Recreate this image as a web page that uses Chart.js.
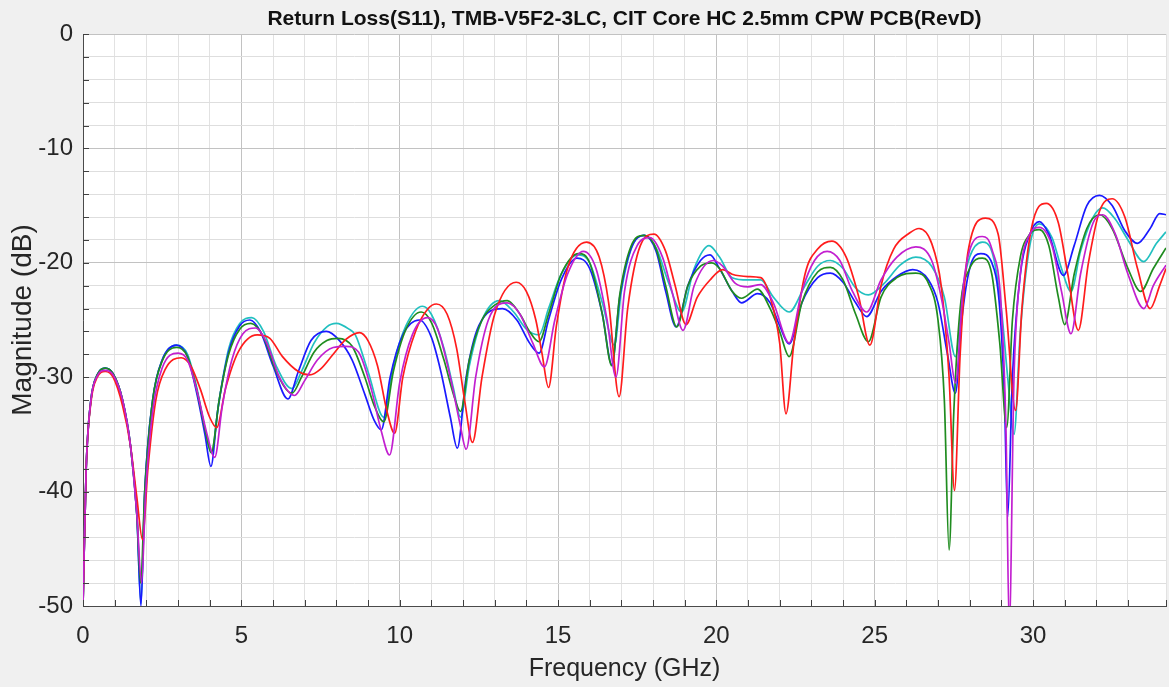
<!DOCTYPE html>
<html>
<head>
<meta charset="utf-8">
<script src="https://cdn.jsdelivr.net/npm/chart.js@4.4.1/dist/chart.umd.min.js"></script>
<style>
  html, body { margin:0; padding:0; background:#f0f0f0; }
  #wrap { width:1169px; height:687px; }
</style>
</head>
<body>
<div id="wrap"><canvas id="s11" width="1169" height="687"></canvas></div>
<script>
// S11 traces (GHz / dB)
const magentaFreq = [0,0.1,0.25,0.45,0.7,0.95,1.25,1.5,1.7,1.85,1.98,2.2,2.5,3.0,3.3,3.6,3.9,4.16,4.4,4.7,5.05,5.45,5.8,6.2,6.68,7.0,7.4,7.9,8.3,8.7,9.1,9.4,9.68,10.0,10.4,10.88,11.2,11.6,11.9,12.1,12.4,12.8,13.4,13.8,14.2,14.57,14.9,15.3,15.8,16.2,16.55,16.83,17.1,17.5,17.9,18.3,18.6,18.95,19.3,19.9,20.2,20.6,21.0,21.4,21.8,22.3,22.7,23.1,23.5,23.9,24.3,24.75,25.2,25.7,26.3,26.8,27.1,27.35,27.55,27.8,28.05,28.4,28.7,29.0,29.15,29.25,29.4,29.6,29.9,30.2,30.6,30.9,31.2,31.5,31.9,32.2,32.6,33.0,33.5,33.8,34.2];
const magentaDb = [-50,-38,-32,-29.9,-29.4,-29.8,-32,-36,-42,-48,-40,-33,-29.2,-27.9,-28.5,-31.2,-34.8,-37,-32.5,-28.5,-26.2,-25.7,-27,-30,-31.6,-30.3,-28.5,-27.4,-27.3,-27.8,-31,-34.5,-36.8,-30.5,-26.3,-24.8,-25.8,-30,-34,-36.3,-30,-25,-23.5,-24.5,-27,-29.1,-25,-21,-19,-20.5,-25,-30,-22.5,-18.5,-17.8,-19.5,-22.5,-25.9,-22,-19.8,-20.3,-21.8,-22.1,-21.9,-23.5,-27,-22.5,-19.8,-19,-19.8,-22.5,-24.3,-21.5,-19.5,-18.6,-19.8,-23,-27,-30.5,-22,-18.5,-17.7,-18.8,-24,-35,-52,-30,-21,-17.5,-16.9,-18.5,-22.5,-26.2,-21,-16.5,-15.8,-17.5,-21,-24,-22,-20.2];

const redFreq = [0,0.1,0.25,0.45,0.7,0.95,1.25,1.5,1.7,1.88,2.05,2.3,2.6,3.1,3.4,3.7,4.0,4.22,4.5,4.9,5.5,5.9,6.3,6.8,7.16,7.5,7.9,8.3,8.73,9.0,9.3,9.6,9.84,10.1,10.5,10.9,11.16,11.5,11.8,12.05,12.3,12.6,13.0,13.68,14.0,14.3,14.5,14.7,14.95,15.3,15.9,16.3,16.6,16.93,17.2,17.6,18.03,18.4,18.7,19.04,19.4,19.8,20.2,20.5,21.0,21.4,21.7,22.0,22.2,22.45,22.8,23.2,23.65,24.1,24.5,24.85,25.2,25.6,26.1,26.4,26.8,27.1,27.35,27.52,27.7,27.95,28.5,28.9,29.15,29.45,29.65,29.95,30.42,30.8,31.1,31.43,31.75,32.1,32.5,32.9,33.3,33.7,34.0,34.2];
const redDb = [-50,-38,-32.2,-30,-29.5,-30,-32.5,-36,-40.5,-44.2,-38,-32,-29.3,-28.3,-29,-31,-33.5,-34.4,-31,-27.8,-26.3,-26.6,-28.2,-29.5,-29.8,-29.3,-28,-26.7,-26.1,-26.8,-29,-33,-34.9,-30,-26,-24,-23.6,-24.5,-27.5,-32,-35.7,-30,-24.5,-21.7,-22.5,-25,-28,-30.9,-25.5,-20.5,-18.2,-19.5,-23.5,-31.7,-24,-18.5,-17.5,-19,-22,-25.4,-23,-21.5,-20.6,-21,-21.2,-21.3,-23,-27,-33.2,-27,-21,-18.8,-18.1,-19.5,-23,-27.2,-22,-18.8,-17.4,-17,-18.3,-22,-30,-39.9,-28,-19,-16.1,-17.5,-24,-32.9,-24,-17,-14.8,-16.5,-21,-25.9,-20,-15.5,-14.4,-16,-20.5,-24,-22,-20.5];

const greenFreq = [0,0.1,0.25,0.45,0.7,0.95,1.25,1.5,1.7,1.82,1.95,2.2,2.5,2.95,3.3,3.6,3.85,4.05,4.3,4.6,4.95,5.3,5.7,6.1,6.6,6.9,7.3,7.7,8.05,8.5,8.9,9.2,9.5,9.8,10.2,10.68,11.0,11.4,11.7,11.92,12.2,12.6,13.0,13.4,13.8,14.1,14.4,14.7,15.1,15.65,16.0,16.4,16.7,16.95,17.3,17.72,18.1,18.4,18.75,19.1,19.5,19.85,20.1,20.5,20.8,21.3,21.7,22.0,22.3,22.7,23.2,23.6,24.0,24.4,24.8,25.2,25.7,26.3,26.7,27.0,27.2,27.35,27.5,27.7,28.0,28.4,28.7,28.95,29.17,29.35,29.6,29.9,30.2,30.5,30.8,31.0,31.3,31.7,32.1,32.5,33.0,33.4,33.8,34.2];
const greenDb = [-50,-38,-32,-29.8,-29.2,-29.7,-32,-36,-42,-48,-40,-32,-28.6,-27.4,-28.2,-31.2,-34.5,-36.6,-32,-28,-25.8,-25.3,-26.5,-29.5,-31.4,-30,-27.8,-26.8,-26.6,-27.3,-30,-32.5,-33.9,-29.5,-25.8,-24.3,-25.2,-28.5,-31.5,-33,-28.5,-25,-23.7,-23.3,-24.5,-26,-26.9,-24.5,-21,-19.2,-20,-24.5,-29,-22.8,-18.6,-17.6,-18.8,-22,-25.6,-22,-20.3,-20,-20.5,-22.5,-23.1,-22.3,-24,-26,-28.2,-23.5,-20.8,-20.4,-21.5,-24.5,-26.9,-23,-21.3,-20.9,-21.8,-25,-32,-45.1,-33,-24,-20.5,-19.6,-21,-27,-34.4,-25,-19.5,-17.5,-17.1,-18.5,-23,-25.4,-21,-17,-15.8,-17,-20.5,-22.5,-20.5,-18.7];

const blueFreq = [0,0.1,0.25,0.45,0.7,0.95,1.25,1.5,1.7,1.83,1.95,2.2,2.5,2.95,3.3,3.6,3.85,4.04,4.25,4.6,4.95,5.27,5.6,6.0,6.47,6.8,7.2,7.68,8.1,8.5,8.9,9.2,9.42,9.7,10.1,10.62,11.0,11.3,11.6,11.82,12.1,12.5,13.25,13.7,14.1,14.4,14.7,15.1,15.6,16.0,16.4,16.7,16.95,17.3,17.72,18.1,18.4,18.73,19.1,19.5,19.8,20.1,20.5,20.8,21.3,21.7,22.0,22.3,22.7,23.2,23.6,24.0,24.4,24.75,25.2,25.7,26.2,26.7,27.0,27.3,27.55,27.75,28.0,28.35,28.7,28.95,29.1,29.2,29.35,29.6,29.9,30.2,30.5,30.96,31.3,31.7,32.1,32.5,32.9,33.3,33.7,34.0,34.2];
const blueDb = [-50,-38,-32,-29.8,-29.2,-29.7,-32,-36,-42,-50,-40,-32,-28.5,-27.2,-28.2,-31.5,-35,-37.8,-33,-27.8,-25.5,-25,-26,-29,-31.9,-29.5,-26.8,-26,-26.8,-28.5,-31.5,-33.8,-34.6,-30,-26.3,-25,-26.5,-29.5,-33.5,-36.2,-30,-25.5,-24,-25,-27,-27.9,-25,-21.5,-19.6,-20.5,-24.5,-28.9,-23,-18.8,-17.6,-19,-22.5,-25.6,-22,-19.8,-19.3,-20.5,-22.5,-23.5,-22.7,-23.5,-25.5,-27.1,-23.5,-21.3,-20.9,-21.7,-23.5,-24.7,-22.5,-21.2,-20.6,-21.5,-23.5,-28,-31.4,-25,-20.5,-19.2,-20,-24,-32,-42.2,-30,-21,-17.5,-16.4,-17.5,-21.1,-18.5,-15,-14.1,-15,-17.2,-18.3,-17,-15.7,-15.8];

const cyanFreq = [0,0.1,0.25,0.45,0.7,0.95,1.25,1.5,1.7,1.83,1.95,2.2,2.5,2.95,3.3,3.6,3.85,4.05,4.3,4.6,4.95,5.33,5.7,6.1,6.6,6.9,7.3,7.7,8.0,8.4,8.6,9.0,9.5,9.8,10.2,10.72,11.0,11.4,11.7,11.92,12.2,12.6,13.15,13.6,14.0,14.4,14.7,15.1,15.6,16.0,16.4,16.78,17.0,17.35,17.72,18.1,18.5,18.9,19.3,19.77,20.1,20.5,21.0,21.4,21.8,22.3,22.8,23.2,23.6,24.0,24.4,24.8,25.3,25.8,26.3,26.8,27.2,27.55,27.8,28.0,28.4,28.7,29.0,29.2,29.4,29.6,29.9,30.2,30.6,30.9,31.2,31.5,31.9,32.2,32.6,33.0,33.5,33.9,34.2];
const cyanDb = [-50,-38,-32,-29.8,-29.2,-29.7,-32,-36,-42,-49.8,-40,-32,-28.5,-27.2,-28,-31,-34.5,-36.6,-32,-27.5,-25.3,-24.8,-26,-29,-31,-29.5,-27,-25.6,-25.3,-25.8,-26.3,-29.5,-33.5,-29,-25.5,-23.8,-24.5,-27.5,-31,-33.5,-29,-25,-23.3,-24.3,-25.8,-26.3,-24,-21,-19.3,-20,-23.5,-27.2,-22.5,-18.5,-17.6,-18.7,-21.8,-24.3,-20.5,-18.5,-19.5,-21.3,-21.5,-21.5,-23,-24.3,-22,-20.3,-19.8,-20.5,-22.2,-22.8,-21.8,-20.2,-19.5,-20.3,-23,-28.2,-22,-19.5,-18.2,-19,-24,-30,-35,-26,-18.5,-16.6,-17.8,-20.5,-22.5,-19,-16,-15.2,-16.2,-18,-19.9,-18.3,-17.3];

const series = [
  { name:'magenta', freq:magentaFreq, db:magentaDb, color:'#c21fd0' },
  { name:'red',     freq:redFreq,     db:redDb,     color:'#ff1c1c' },
  { name:'green',   freq:greenFreq,   db:greenDb,   color:'#1f8c1f' },
  { name:'blue',    freq:blueFreq,    db:blueDb,    color:'#1a1aff' },
  { name:'cyan',    freq:cyanFreq,    db:cyanDb,    color:'#22c0c0' }
];

const titleText = 'Return Loss(S11), TMB-V5F2-3LC, CIT Core HC 2.5mm CPW PCB(RevD)';
const txt = '#262626';
const sansFont = "'Liberation Sans', Arial, sans-serif";

// white plot area, inward ticks, title centred over the axes
const axesBox = {
  id:'axesBox',
  beforeDraw(chart) {
    const a = chart.chartArea, c = chart.ctx;
    c.save();
    c.fillStyle = '#ffffff';
    c.fillRect(a.left, a.top, a.right - a.left, a.bottom - a.top);
    c.restore();
  },
  afterDraw(chart) {
    const a = chart.chartArea, c = chart.ctx;
    const xs = chart.scales.x, ys = chart.scales.y;
    c.save();
    c.strokeStyle = '#404040';
    c.lineWidth = 1;
    c.beginPath();
    xs.ticks.forEach(t => {
      const px = Math.round(xs.getPixelForValue(t.value)) + 0.5;
      c.moveTo(px, a.bottom); c.lineTo(px, a.bottom - 6);
    });
    ys.ticks.forEach(t => {
      const py = Math.round(ys.getPixelForValue(t.value)) + 0.5;
      c.moveTo(a.left, py); c.lineTo(a.left + 6, py);
    });
    c.stroke();
    c.fillStyle = '#111';
    c.font = 'bold 21px ' + sansFont;
    c.textAlign = 'center';
    c.textBaseline = 'middle';
    c.fillText(titleText, (a.left + a.right) / 2, a.top - 15);
    c.restore();
  }
};

new Chart(document.getElementById('s11').getContext('2d'), {
  type:'line',
  data:{
    datasets: series.map(s => ({
      label: s.name,
      data: s.freq.map((f, i) => ({ x: f, y: s.db[i] })),
      borderColor: s.color,
      borderWidth: 1.7,
      pointRadius: 0,
      fill: false,
      cubicInterpolationMode: 'monotone'
    }))
  },
  options:{
    responsive:false,
    animation:false,
    layout:{ padding:{ left:0, right:3, top:34, bottom:0 } },
    plugins:{
      legend:{ display:false },
      tooltip:{ enabled:false },
      title:{ display:false }
    },
    scales:{
      x:{
        type:'linear', min:0, max:34.2,
        afterFit: s => { s.height = 81; s.paddingLeft = 0; s.paddingRight = 0; },
        ticks:{
          stepSize:1, autoSkip:false, maxRotation:0, padding:16,
          color:txt, font:{ family:sansFont, size:24 },
          callback: v => (v % 5 === 0 ? v : '')
        },
        grid:{
          drawTicks:false,
          color: c => (c.tick && c.tick.value % 5 === 0 ? '#c2c2c2' : '#e2e2e2')
        },
        border:{ color:'#4a4a4a', width:1 },
        title:{ display:true, text:'Frequency (GHz)', color:txt,
                font:{ family:sansFont, size:25 }, padding:{ top:0, bottom:3 } }
      },
      y:{
        min:-50, max:0,
        afterFit: s => { s.width = 83; s.paddingTop = 0; s.paddingBottom = 0; },
        ticks:{
          stepSize:2, autoSkip:false, padding:10,
          color:txt, font:{ family:sansFont, size:24 },
          callback: v => (v % 10 === 0 ? v : '')
        },
        grid:{
          drawTicks:false,
          color: c => (c.tick && c.tick.value % 10 === 0 ? '#c2c2c2' : '#dedede')
        },
        border:{ color:'#4a4a4a', width:1 },
        title:{ display:true, text:'Magnitude (dB)', color:txt,
                font:{ family:sansFont, size:28 }, padding:{ top:6, bottom:0 } }
      }
    }
  },
  plugins:[axesBox]
});
</script>
</body>
</html>
